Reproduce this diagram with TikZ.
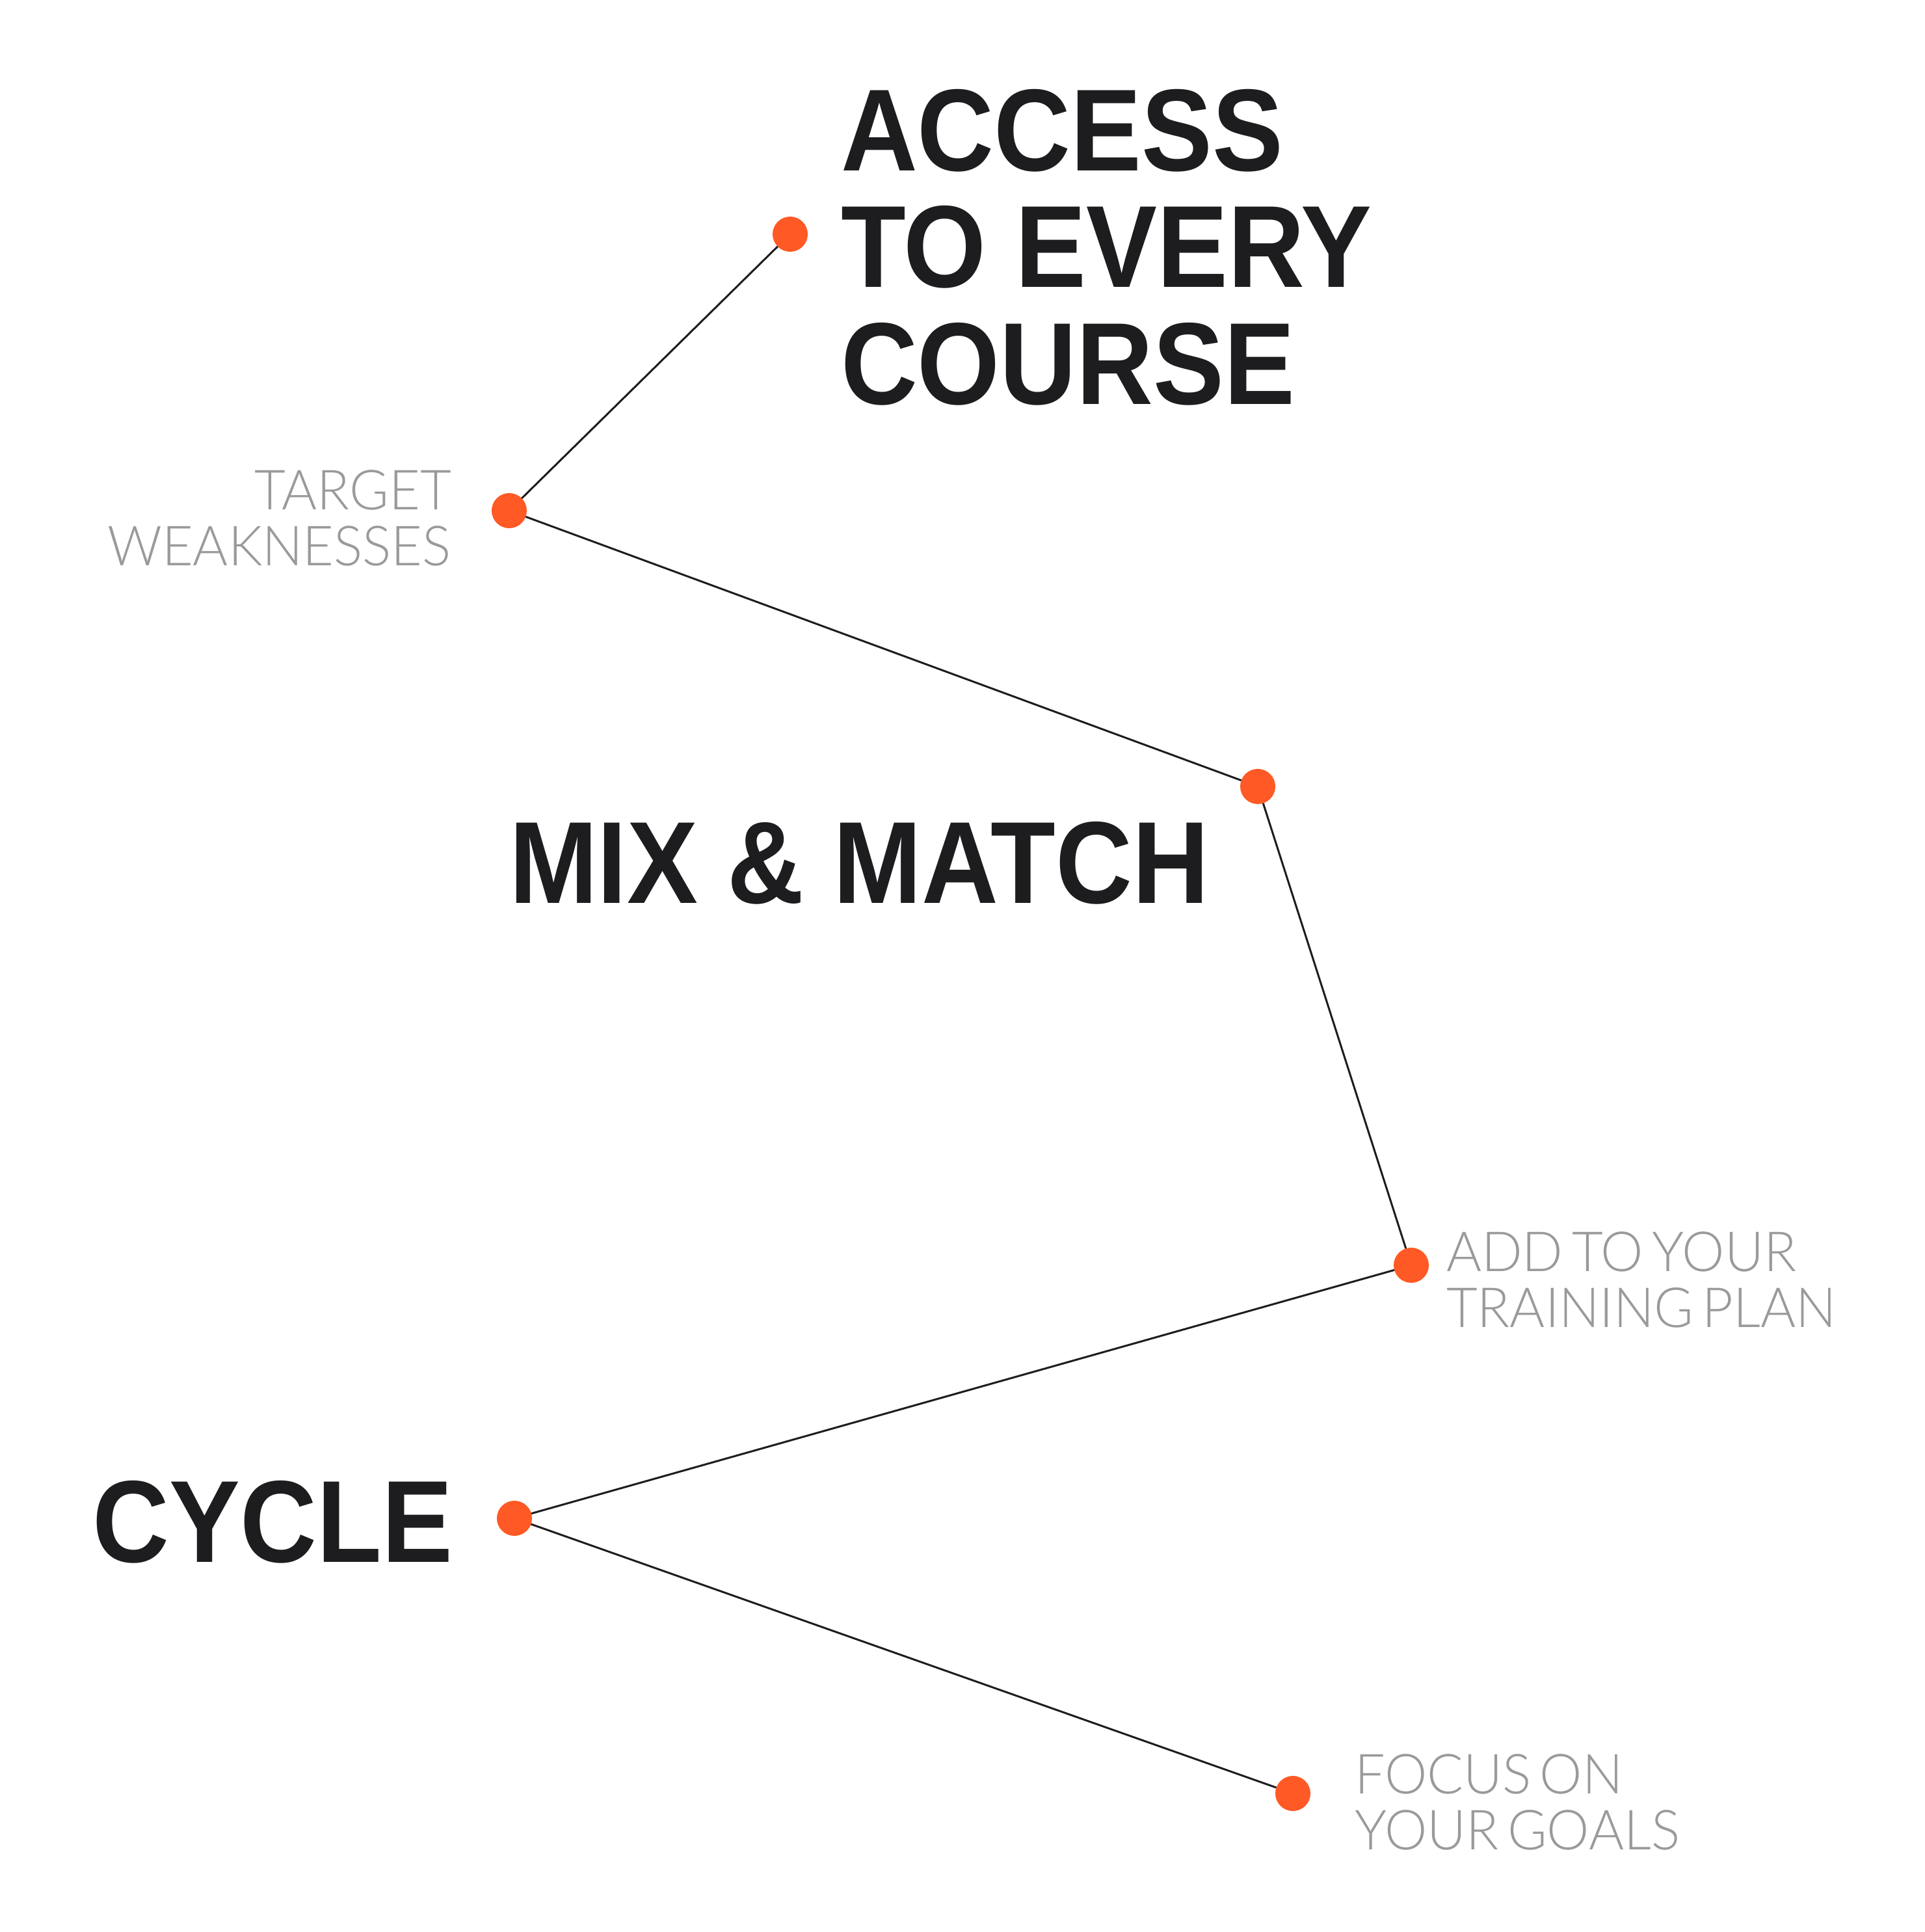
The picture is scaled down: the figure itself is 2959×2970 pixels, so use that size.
\documentclass[tikz,border=0pt]{standalone}
\usepackage{fontspec}
\setmainfont{Liberation Sans}
\newfontfamily\headfont[FakeStretch=0.91]{Liberation Sans}
\IfFontExistsTF{Lato Light}{\newfontfamily\notefont[FakeStretch=0.97,WordSpace=0.6]{Lato Light}}{\newfontfamily\notefont[FakeStretch=0.9]{Liberation Sans}}
\definecolor{dotorange}{HTML}{FF5925}
\definecolor{ink}{HTML}{1D1C1F}
\definecolor{notegray}{HTML}{9A999B}
\begin{document}
\begin{tikzpicture}[x=0.01cm,y=-0.01cm,
  dot/.style={circle,fill=dotorange,minimum size=0.54cm,inner sep=0pt,outer sep=0pt},
  link/.style={draw=ink,line width=0.85pt},
  headline/.style={font=\headfont\bfseries\fontsize{51}{51}\selectfont,text=ink,inner sep=0pt,outer sep=0pt,align=left},
  note/.style={font=\notefont\fontsize{24.2}{24.2}\selectfont,text=notegray,inner sep=0pt,outer sep=0pt}]
\fill[white] (0,0) rectangle (2959,2970);
\useasboundingbox (0,0) rectangle (2959,2970);
% dots
\node[dot] (a) at (1215,360) {};
\node[dot] (b) at (783,785) {};
\node[dot] (c) at (1934,1209) {};
\node[dot] (d) at (2170,1945) {};
\node[dot] (e) at (791,2334) {};
\node[dot] (f) at (1988,2757) {};
% links
\draw[link] (a) -- (b);
\draw[link] (b) -- (c);
\draw[link] (c) -- (d);
\draw[link] (d) -- (e);
\draw[link] (e) -- (f);
% headlines (base anchor = baseline of the last line)
\node[headline,anchor=base west] (access) at (1293,621.2) {ACCESS\\TO EVERY\\COURSE};
\node[headline,anchor=base west] (mix) at (783,1388.6) {MIX \& MATCH};
\node[headline,anchor=base east] (cycle) at (696,2401.7) {CYCLE};
% notes
\node[note,anchor=base east,align=right] (target) at (694,869) {TARGET\\WEAKNESSES};
\node[note,anchor=base west,align=left] (add) at (2224,2040) {ADD TO YOUR\\TRAINING PLAN};
\node[note,anchor=base west,align=left] (focus) at (2083,2843) {FOCUS ON\\YOUR GOALS};
\end{tikzpicture}
\end{document}
